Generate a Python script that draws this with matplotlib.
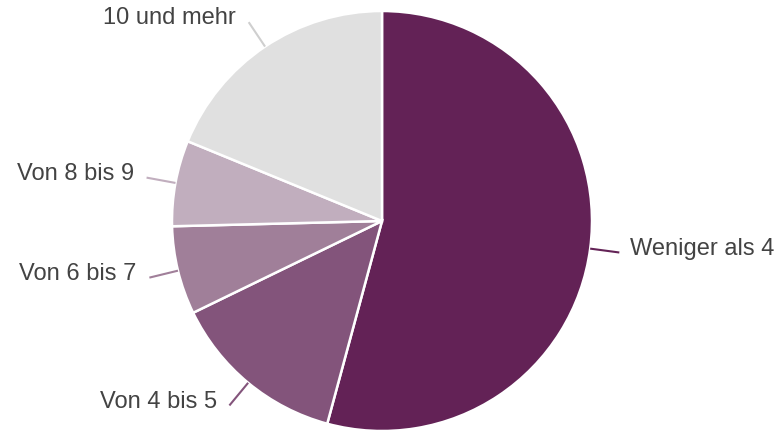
import numpy as np
import matplotlib
matplotlib.use("Agg")
import matplotlib.pyplot as plt

plt.rcParams['font.family'] = ['Liberation Sans', 'DejaVu Sans']

labels = ["Weniger als 4", "Von 4 bis 5", "Von 6 bis 7", "Von 8 bis 9", "10 und mehr"]
values = [54.2, 13.6, 6.8, 6.6, 18.8]
colors = ["#632256", "#83547b", "#a07f99", "#c1aebe", "#e0e0e0"]
line_colors = ["#632256", "#83547b", "#a07f99", "#c1aebe", "#cfcfcf"]

W, H = 779, 431
cx, cy, R = 382, 222, 210  # pixel layout of the pie

fig = plt.figure(figsize=(W / 100, H / 100), dpi=100)
ax = fig.add_axes([0, 0, 1, 1])

wedges, _ = ax.pie(values, colors=colors, startangle=90, counterclock=False,
                   wedgeprops=dict(edgecolor="white", linewidth=1.8))

ax.set_xlim(-cx / R, (W - cx) / R)
ax.set_ylim(-(H - cy) / R, cy / R)

for w, lab, lc in zip(wedges, labels, line_colors):
    ang = np.deg2rad((w.theta1 + w.theta2) / 2)
    x0, y0 = np.cos(ang), np.sin(ang)
    x1, y1 = 1.14 * x0, 1.14 * y0
    ax.plot([x0, x1], [y0, y1], color=lc, lw=1.5, solid_capstyle="butt")
    off = 0.05 if x0 >= 0 else -0.06
    ax.text(x1 + off, y1 - 0.005, lab, ha="left" if x0 >= 0 else "right",
            va="baseline", fontsize=17, color="#434343")

fig.savefig("out.png", dpi=100)
